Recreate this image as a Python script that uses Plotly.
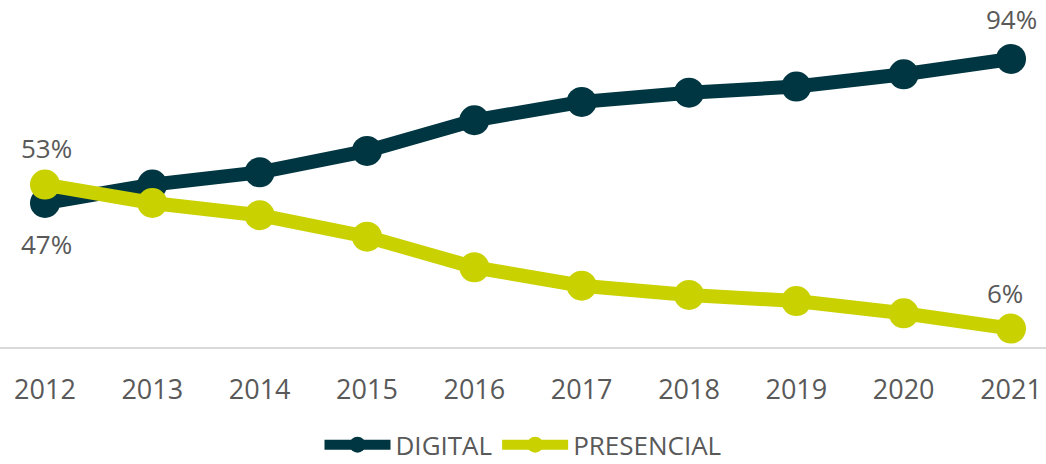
import plotly.graph_objects as go

years = [2012, 2013, 2014, 2015, 2016, 2017, 2018, 2019, 2020, 2021]
digital = [47, 53, 57, 64, 74, 80, 83, 85, 89, 94]
presencial = [53, 47, 43, 36, 26, 20, 17, 15, 11, 6]

# labelled points: index -> (label, yshift, xshift)
digital_labels = {0: ("47%", -41, 2), 9: ("94%", 40, 0)}
presencial_labels = {0: ("53%", 37, 2), 9: ("6%", 36, -6)}

DARK = "#003641"
LIME = "#c9d200"
TEXT = "#595959"
FONT = "Open Sans"

fig = go.Figure()
fig.add_trace(go.Scatter(
    x=years, y=digital, name="DIGITAL", mode="lines+markers",
    line=dict(color=DARK, width=14),
    marker=dict(color=DARK, size=30),
    cliponaxis=False,
))
fig.add_trace(go.Scatter(
    x=years, y=presencial, name="PRESENCIAL", mode="lines+markers",
    line=dict(color=LIME, width=14),
    marker=dict(color=LIME, size=30),
    cliponaxis=False,
))

annotations = []
for values, labels in ((digital, digital_labels), (presencial, presencial_labels)):
    for i, (txt, ys, xs) in labels.items():
        annotations.append(dict(
            x=years[i], y=values[i], xref="x", yref="y", text=txt,
            showarrow=False, yshift=ys, xshift=xs,
            font=dict(family=FONT, size=26, color=TEXT),
        ))

fig.update_layout(
    width=1046, height=464,
    margin=dict(l=0, r=0, t=0, b=117),
    paper_bgcolor="white", plot_bgcolor="white",
    font=dict(family=FONT, color=TEXT),
    showlegend=True,
    annotations=annotations,
    legend=dict(
        orientation="h", x=0.5, xanchor="center",
        yref="container", y=0.092, yanchor="top",
        font=dict(family=FONT, size=26, color=TEXT),
        itemwidth=66, traceorder="normal",
    ),
    xaxis=dict(
        range=[2011.581, 2021.326], tickmode="array", tickvals=years,
        ticktext=[str(y) for y in years],
        showgrid=False, zeroline=False,
        showline=True, linecolor="#d9d9d9", linewidth=2,
        ticks="", ticklabelstandoff=18,
        tickfont=dict(family=FONT, size=27, color=TEXT),
        fixedrange=True,
    ),
    yaxis=dict(
        range=[0, 113.25], showgrid=False, zeroline=False,
        showticklabels=False, showline=False, fixedrange=True,
    ),
)

fig.write_html("out.html")
